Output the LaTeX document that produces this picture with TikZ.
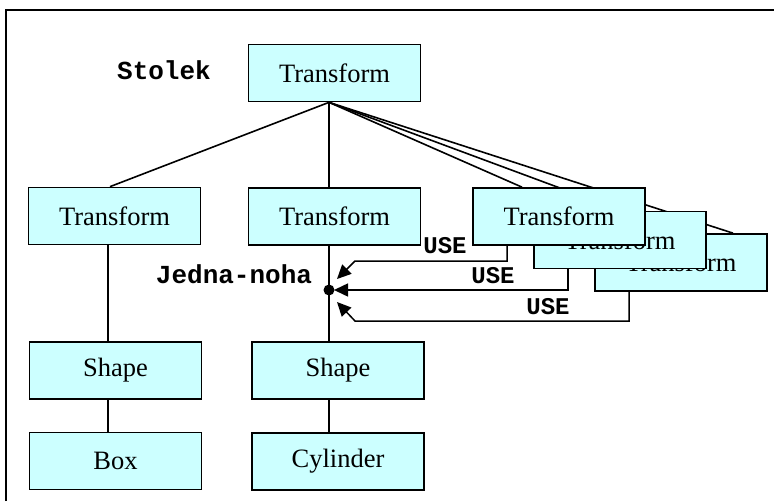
\documentclass[tikz,border=0pt]{standalone}
\usepackage{fontspec}
\setmainfont{Liberation Serif}
\newfontfamily\monofnt{Liberation Mono}
\usetikzlibrary{arrows.meta}
\definecolor{boxfill}{HTML}{CCFFFF}
\tikzset{
  nodebox/.style={draw=black, line width=1.7pt, fill=boxfill, rectangle,
    minimum width=172pt, minimum height=57pt, inner sep=0pt,
    font=\fontsize{26.5}{30}\selectfont},
  conn/.style={line width=1.6pt},
  usearrow/.style={line width=1.5pt, -{Triangle[length=14pt,width=13pt]}},
  monolabel/.style={font=\fontsize{26}{30}\selectfont\monofnt\bfseries, inner sep=0pt},
  uselabel/.style={font=\fontsize{24}{28}\selectfont\monofnt\bfseries, inner sep=0pt}
}
\begin{document}
\begin{tikzpicture}[x=1pt,y=-1pt]
\useasboundingbox (0,0) rectangle (774,501);
% frame
\draw[line width=2pt] (6,501) -- (6,10) -- (774,10);
% helper coordinates for connector columns
\coordinate (cm) at (329,0);
\coordinate (cl) at (108,0);
\coordinate (c1) at (507,0);
\coordinate (c2) at (568,0);
\coordinate (c3) at (629,0);
\coordinate (t1) at (522,0);
\coordinate (t2) at (621,0);
\coordinate (t3) at (733,0);
% nodes (invisible first, to get anchors)
\path (334.5,73) node[nodebox, draw=none, fill=none] (root) {}
      (114.5,216) node[nodebox, draw=none, fill=none] (lt) {}
      (334.5,216.5) node[nodebox, draw=none, fill=none] (mt) {}
      (559,216.5) node[nodebox, draw=none, fill=none] (r1) {}
      (620,240) node[nodebox, draw=none, fill=none] (r2) {}
      (681,262.5) node[nodebox, draw=none, fill=none] (r3) {};
\coordinate (rs) at (root.south -| cm);
% connectors from root
\draw[conn] (rs) -- (lt.north -| 110,0);
\draw[conn] (rs) -- (mt.north -| cm);
\draw[conn] (rs) -- (r1.north -| t1);
\draw[conn] (rs) -- (r2.north -| t2);
\draw[conn] (rs) -- (r3.north -| t3);
% visible boxes
\node[nodebox] (rootb) at (root) {Transform};
\node[nodebox] (ltb) at (lt) {Transform};
\node[nodebox] (mtb) at (mt) {Transform};
\node[nodebox] (r3b) at (r3) {Transform};
\node[nodebox] (r2b) at (r2) {Transform};
\node[nodebox] (r1b) at (r1) {Transform};
\node[nodebox] (ls) at (115.5,370.5) {Shape};
\node[nodebox] (ms) at (338,370.5) {Shape};
\node[nodebox] (bx) at (115.5,461) {Box};
\node[nodebox] (cy) at (338,461.5) {Cylinder};
% vertical connectors
\draw[conn] (ltb.south -| cl) -- (ls.north -| cl);
\draw[conn] (ls.south -| cl) -- (bx.north -| cl);
\draw[conn] (mtb.south -| cm) -- (ms.north -| cm);
\draw[conn] (ms.south -| cm) -- (cy.north -| cm);
% junction dot
\coordinate (dot) at (329,290);
\fill (dot) circle[radius=5.5pt];
% USE arrows
\draw[usearrow] (r1b.south -| c1) -- (507,261) -- (355,261) -- (337,279);
\draw[usearrow] (r2b.south -| c2) -- (568,290) -- (334,290);
\draw[usearrow] (r3b.south -| c3) -- (629,321) -- (355,321) -- (337,302);
% labels
\node[monolabel] (stolek) at (164,70) {Stolek};
\node[monolabel] (jedna) at (234,274) {Jedna-noha};
\node[uselabel] (u1) at (445,246) {USE};
\node[uselabel] (u2) at (493,276) {USE};
\node[uselabel] (u3) at (548,307) {USE};
\end{tikzpicture}
\end{document}
